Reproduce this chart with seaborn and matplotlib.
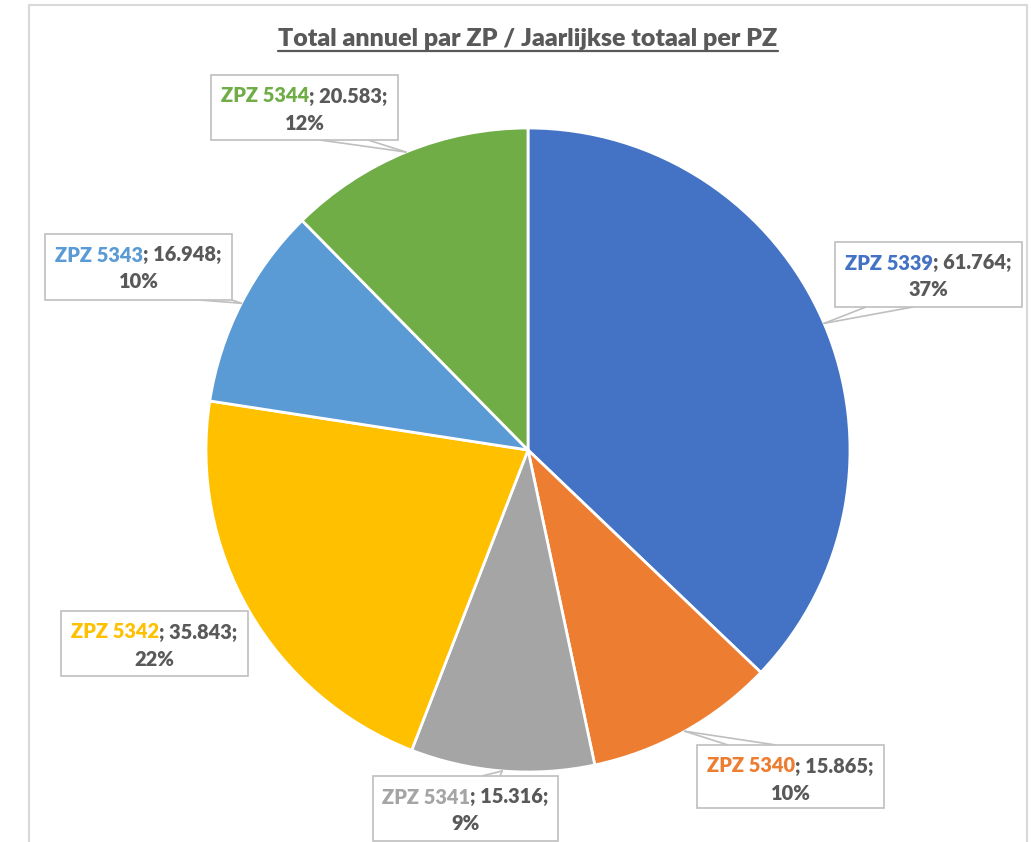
import matplotlib
matplotlib.use("Agg")
import matplotlib.pyplot as plt
from matplotlib.patches import Rectangle
import numpy as np
import seaborn as sns

W, H = 1031, 842

# données
zones = ["ZPZ 5339", "ZPZ 5340", "ZPZ 5341", "ZPZ 5342", "ZPZ 5343", "ZPZ 5344"]
totals = [61764, 15865, 15316, 35843, 16948, 20583]
colors = ["#4472C4", "#ED7D31", "#A5A5A5", "#FFC000", "#5B9BD5", "#70AD47"]
title = "Total annuel par ZP / Jaarlijkse totaal per PZ"

# position des étiquettes (gauche, haut, droite, bas en pixels) + base du trait
boxes = {
    "ZPZ 5339": ((835, 242, 1022, 307), (866, 913, "bottom")),
    "ZPZ 5340": ((697, 745, 884, 808), (728, 776, "top")),
    "ZPZ 5341": ((373, 776, 558, 841), (482, 500, "top")),
    "ZPZ 5342": ((61, 611, 248, 676), None),
    "ZPZ 5343": ((45, 234, 232, 300), (200, 232, "bottom")),
    "ZPZ 5344": ((211, 75, 398, 140), (320, 368, "bottom")),
}
CX, CY, R = 528, 450, 322
GRAY = "#595959"
EDGE = "#BFBFBF"
LABEL_SIZE = 14.4

sns.set_theme(style="white")
plt.rcParams["font.family"] = ["Lato", "DejaVu Sans"]


def py(y):
    """pixel (haut->bas) vers coordonnée y de l'axe"""
    return H - y


def fmt_num(v):
    return f"{v:,}".replace(",", ".")


fig = plt.figure(figsize=(W / 100, H / 100), dpi=100)
ax = fig.add_axes([0, 0, 1, 1])
wedges, _ = ax.pie(
    totals,
    colors=colors,
    startangle=90,
    counterclock=False,
    center=(CX, py(CY)),
    radius=R,
    wedgeprops=dict(edgecolor="white", linewidth=2),
)
ax.set_xlim(0, W)
ax.set_ylim(0, H)
ax.set_aspect("equal")
ax.axis("off")

# cadre
ax.add_patch(Rectangle((29, py(H + 10)), 1027 - 29, (H + 10) - 5,
                       fill=False, edgecolor="#D9D9D9", lw=1.5, zorder=0))

# titre souligné
t = ax.text(CX, py(39), title, ha="center", va="center", fontsize=18,
            fontweight="heavy", color=GRAY)
renderer = fig.canvas.get_renderer()
bb = t.get_window_extent(renderer)
ax.plot([bb.x0, bb.x1], [py(51), py(51)], color=GRAY, lw=1.6)

total = sum(totals)
for w, name, val in zip(wedges, zones, totals):
    (l, tp, r, b), leader = boxes[name]
    mid = np.deg2rad((w.theta1 + w.theta2) / 2)
    ax_pt = (CX + R * np.cos(mid), py(CY) + R * np.sin(mid))
    if leader is not None:
        x1, x2, side = leader
        yb = b if side == "bottom" else tp
        for xb in (x1, x2):
            ax.plot([xb, ax_pt[0]], [py(yb), ax_pt[1]], color=EDGE, lw=1.2, zorder=4)
    ax.add_patch(Rectangle((l, py(b)), r - l, b - tp, facecolor="white",
                           edgecolor=EDGE, lw=1.2, zorder=5))
    cx = (l + r) / 2
    part1 = ax.text(0, py(tp + 21), name, ha="left", va="center", fontsize=LABEL_SIZE,
                    fontweight="heavy", color=w.get_facecolor(), zorder=6)
    part2 = ax.text(0, py(tp + 21), f"; {fmt_num(val)};", ha="left", va="center",
                    fontsize=LABEL_SIZE, fontweight="heavy", color=GRAY, zorder=6)
    w1 = part1.get_window_extent(renderer).width
    w2 = part2.get_window_extent(renderer).width
    x0 = cx - (w1 + w2) / 2
    part1.set_x(x0)
    part2.set_x(x0 + w1)
    ax.text(cx, py(tp + 48), f"{val / total * 100:.0f}%", ha="center", va="center",
            fontsize=LABEL_SIZE, fontweight="heavy", color=GRAY, zorder=6)

fig.savefig("out.png", dpi=100)
plt.close(fig)
